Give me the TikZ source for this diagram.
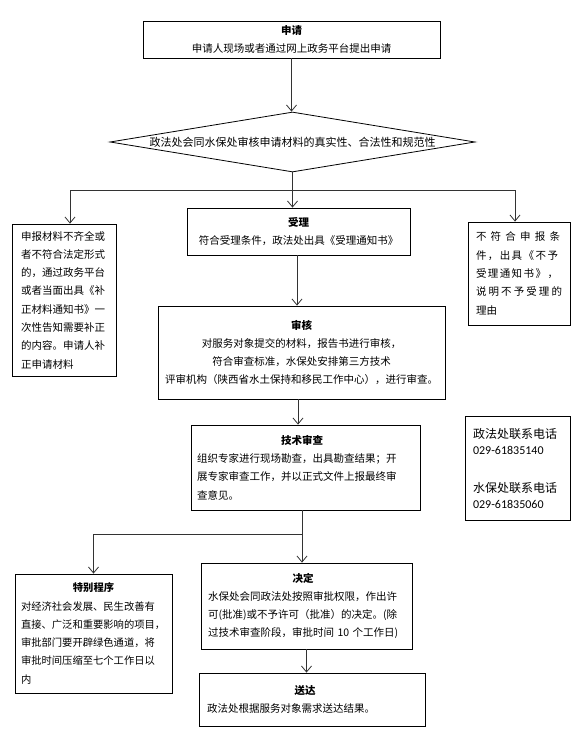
\documentclass[tikz,border=0pt]{standalone}
\usepackage{fontspec}
\setmainfont{Noto Sans CJK SC}
\newfontfamily\numfont{Carlito}
\usetikzlibrary{arrows.meta,shapes.geometric}
\tikzset{
  box/.style={draw=black, line width=0.8pt, inner ysep=0pt, font=\fontsize{10.5}{18.3}\selectfont},
  arr/.style={draw=black!80, line width=0.8pt, -{Straight Barb[length=6pt,width=10pt]}},
  ln/.style={draw=black!80, line width=0.8pt},
}
\newcommand{\ttl}[2]{\makebox[#1][c]{\bfseries #2}}
\begin{document}
\begin{tikzpicture}[x=1pt,y=-1pt]
\useasboundingbox (0,0) rectangle (577,741);

\node[box, minimum width=297pt, minimum height=37pt, text width=290pt, inner xsep=3.5pt, align=center] (req) at (291.5,39.5)
  {{\bfseries 申请}\\申请人现场或者通过网上政务平台提出申请};

\node[draw=black, line width=0.8pt, diamond, shape aspect=6, minimum width=365pt, minimum height=60pt, inner sep=0pt, font=\fontsize{11}{13}\selectfont] (chk) at (292.5,142)
  {政法处会同水保处审核申请材料的真实性、合法性和规范性};

\node[box, minimum width=104pt, minimum height=152pt, text width=86pt, inner xsep=9pt, align=left] (inc) at (64,300)
  {申报材料不齐全或\\者不符合法定形式\\的，通过政务平台\\或者当面出具《补\\正材料通知书》一\\次性告知需要补正\\的内容。申请人补\\正申请材料};

\node[box, minimum width=223pt, minimum height=47pt, text width=215pt, inner xsep=4pt, align=center] (acc) at (298.5,231.5)
  {{\bfseries 受理}\\符合受理条件，政法处出具《受理通知书》};

\node[box, minimum width=102pt, minimum height=103pt, text width=86pt, inner xsep=8pt, align=left] (rej) at (519,273.5)
  {\makebox[84pt][s]{不\hfill 符\hfill 合\hfill 申\hfill 报\hfill 条}\\
   \makebox[82pt][s]{件\hfill ，\hfill 出\hfill 具\hfill 《\hfill 不\hfill 予}\\
   \makebox[82pt][s]{受\hfill 理\hfill 通\hfill 知\hfill 书\hfill 》\hfill ，}\\
   \makebox[86pt][s]{说\hfill 明\hfill 不\hfill 予\hfill 受\hfill 理\hfill 的}\\
   理由};

\node[box, minimum width=287pt, minimum height=93pt, text width=283pt, inner xsep=2pt, align=center] (rev) at (301.5,352.5)
  {{\bfseries 审核}\\对服务对象提交的材料，报告书进行审核，\\符合审查标准，水保处安排第三方技术\\评审机构（陕西省水土保持和移民工作中心），进行审查。};

\node[box, minimum width=229pt, minimum height=85pt, text width=217pt, inner xsep=6pt, align=left] (tech) at (305.5,467.5)
  {\ttl{210pt}{技术审查}\\组织专家进行现场勘查，出具勘查结果；开\\展专家审查工作，并以正式文件上报最终审\\查意见。};

\node[box, minimum width=105pt, minimum height=104pt, text width=89pt, inner xsep=8pt, align=left, font=\fontsize{12}{16}\selectfont] (tel) at (517.5,468)
  {政法处联系电话\\{\numfont 029-61835140}\\[22pt]水保处联系电话\\{\numfont 029-61835060}};

\node[box, minimum width=157pt, minimum height=119pt, text width=145pt, inner xsep=6pt, align=left, font=\fontsize{10.3}{18.3}\selectfont] (spec) at (93.5,633.5)
  {\ttl{145pt}{特别程序}\\对经济社会发展、民生改善有\\直接、广泛和重要影响的项目，\\审批部门要开辟绿色通道，将\\审批时间压缩至七个工作日以\\内};

\node[box, minimum width=211pt, minimum height=86pt, text width=197pt, inner xsep=7pt, align=left] (dec) at (306.5,606)
  {\ttl{190pt}{决定}\\水保处会同政法处按照审批权限，作出许\\可(批准)或不予许可（批准）的决定。(除\\过技术审查阶段，审批时间 10 个工作日)};

\node[box, minimum width=226pt, minimum height=53pt, text width=210pt, inner xsep=8pt, align=left] (del) at (312,699.5)
  {\ttl{196pt}{送达}\\政法处根据服务对象需求送达结果。};

% connectors
\coordinate (row1) at (0,190);
\coordinate (row2) at (0,534);
\coordinate (lx) at (70,0);
\coordinate (rx) at (515,0);
\coordinate (x297) at (297,0);
\coordinate (x298) at (298,0);
\coordinate (x302) at (302,0);

\draw[arr] (req.south) -- (req.south |- chk.north);
\draw[arr] (chk.south) -- (chk.south |- acc.north);
\draw[ln] (lx |- row1) -- (rx |- row1);
\draw[arr] (lx |- row1) -- (lx |- inc.north);
\draw[arr] (rx |- row1) -- (rx |- rej.north);
\draw[arr] (x297 |- acc.south) -- (x297 |- rev.north);
\draw[arr] (x298 |- rev.south) -- (x298 |- tech.north);
\draw[arr] (x302 |- tech.south) -- (x302 |- dec.north);
\draw[ln] (x302 |- row2) -- (spec.north |- row2);
\draw[arr] (spec.north |- row2) -- (spec.north);
\draw[arr] (dec.south) -- (dec.south |- del.north);
\end{tikzpicture}
\end{document}
